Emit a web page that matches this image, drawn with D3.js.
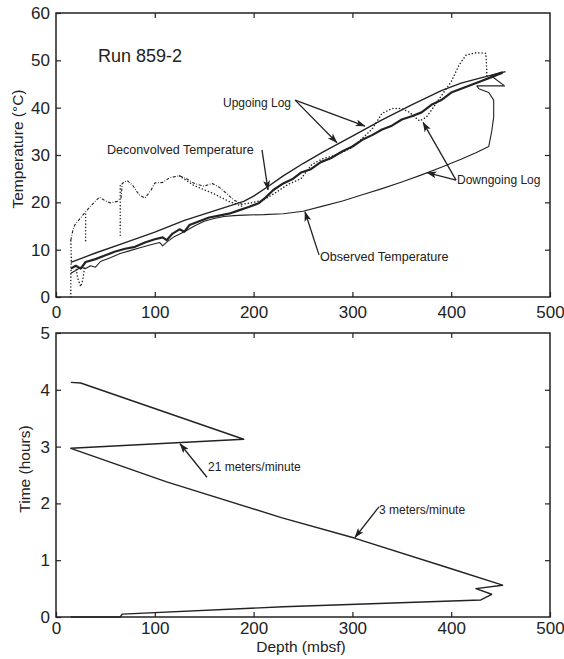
<!DOCTYPE html>
<html>
<head>
<meta charset="utf-8">
<script src="https://cdn.jsdelivr.net/npm/d3@7/dist/d3.min.js"></script>
<style>
  body { margin: 0; background: #fff; }
  svg { display: block; }
  text { font-family: "Liberation Sans", Arial, sans-serif; fill: #222; }
</style>
</head>
<body>
<svg id="chart" width="564" height="659"></svg>
<script>
// ---- tick values ----
const depthTicks = [0, 100, 200, 300, 400, 500];
const tempTicks = [0, 10, 20, 30, 40, 50, 60];
const timeTicks = [0, 1, 2, 3, 4, 5];

// ---- Run 859-2 temperature logs: [depth mbsf, temperature °C] ----
const upgoingUpper = [
  [15, 7.3], [40, 9.3], [70, 11.5], [100, 13.7], [130, 16.2], [160, 18.2],
  [190, 20.2], [200, 21.3], [215, 23.4], [230, 25.6], [250, 28.2], [270, 30.6],
  [300, 34.0], [330, 37.4], [360, 40.6], [390, 43.6], [410, 45.2], [430, 46.3],
  [455, 47.6]
];
const upgoingLower = [
  [15, 6.0], [20, 6.6], [25, 6.0], [30, 7.4], [40, 8.0], [50, 8.8], [60, 9.6],
  [70, 10.2], [80, 10.6], [90, 11.5], [100, 12.2], [108, 12.6], [112, 12.0],
  [118, 13.4], [125, 14.3], [130, 13.8], [135, 15.2], [145, 16.0], [155, 16.8],
  [165, 17.2], [175, 17.6], [185, 18.3], [195, 19.0], [205, 19.8], [212, 21.0],
  [220, 22.6], [230, 24.0], [240, 25.0], [248, 26.3], [258, 27.0], [268, 28.5],
  [278, 29.3], [290, 30.8], [300, 31.8], [310, 33.2], [320, 34.2], [330, 35.4],
  [340, 36.2], [350, 37.5], [360, 38.2], [370, 39.0], [380, 40.6], [390, 41.6],
  [400, 43.2], [410, 44.0], [420, 44.8], [430, 45.6], [440, 46.4], [452, 47.4]
];
const observedTemp = [
  [15, 5.0], [20, 5.6], [25, 6.3], [30, 6.0], [35, 6.6], [40, 6.3], [45, 7.5],
  [55, 8.3], [65, 9.2], [75, 9.8], [85, 10.4], [95, 11.0], [105, 11.5],
  [108, 10.8], [112, 11.6], [120, 12.8], [130, 13.8], [140, 15.0], [150, 16.0],
  [160, 16.6], [170, 17.0], [180, 17.2], [190, 17.3], [210, 17.4], [230, 17.6],
  [250, 18.1], [270, 19.2], [290, 20.3], [310, 21.6], [330, 22.9], [350, 24.3],
  [370, 25.8], [390, 27.4], [410, 29.1], [425, 30.5], [438, 31.8], [441, 35.0],
  [443, 38.0], [443, 41.6], [438, 43.2], [428, 44.0], [426, 44.6], [454, 44.6],
  [440, 46.8], [452, 47.6]
];
// deconvolved temperature, drawn broken in separate pieces
const deconvShallow = [
  [15, 12], [17, 14], [19, 15.2], [22, 16], [28, 17.5],
  [35, 19.2], [44, 21.1], [50, 20.3], [55, 19.9], [62, 20.2], [66, 21],
  [67, 24], [72, 24.6], [78, 23.5], [84, 21.6], [90, 20.9], [96, 22.5],
  [100, 24.1], [108, 24.2], [115, 25.2], [125, 25.6], [132, 25.0], [140, 24.0],
  [150, 23.4], [158, 24.0], [165, 23.2], [172, 22.0], [180, 20.5], [188, 19.6]
];
const deconvBranch = [
  [125, 25.6], [140, 23.5], [160, 21.8], [175, 20.2], [188, 19.2]
];
const deconvDrop0 = [[15, 0], [15, 4], [15.5, 8], [15, 12]];
const deconvDrop1 = [[30, 17.5], [30, 14], [30, 11.5]];
const deconvDrop2 = [[65, 23.5], [65, 18], [65, 12.5]];
const deconvDrop3 = [[20, 6.5], [22, 4], [25, 2.2], [27, 3.5], [29, 6.2]];
const deconvDeep = [
  [188, 19.6], [200, 20.0], [210, 20.5], [222, 22.0], [235, 23.8], [248, 25.0],
  [259, 28.0], [270, 29.2], [280, 29.8], [290, 30.6], [300, 31.6], [310, 33.5],
  [320, 35.5], [330, 38.8], [340, 39.8], [350, 39.8], [358, 39.0], [362, 38.2],
  [368, 37.2], [375, 38.0], [380, 39.5], [390, 42.5], [400, 45.5], [408, 49.0],
  [415, 51.1], [425, 51.6], [435, 51.5], [436, 48.0], [436, 45.5]
];

// ---- probe position: [depth mbsf, time hours] ----
const probePath = [
  [15, 0.0], [65, 0.0], [67, 0.05], [230, 0.18], [430, 0.3], [441, 0.4],
  [425, 0.5], [452, 0.56], [400, 0.85], [302, 1.39], [228, 1.75], [112, 2.38],
  [15, 2.97], [190, 3.13], [25, 4.12], [15, 4.13]
];

const svg = d3.select("#chart");
const ink = "#222";

const x = d3.scaleLinear().domain([0, 500]).range([56, 550]);
const yT = d3.scaleLinear().domain([0, 60]).range([297, 13]);
const yH = d3.scaleLinear().domain([0, 5]).range([617, 333]);

// arrowhead
svg.append("defs").append("marker")
  .attr("id", "head").attr("viewBox", "0 0 10 7")
  .attr("refX", 9.5).attr("refY", 3.5)
  .attr("markerWidth", 10).attr("markerHeight", 7)
  .attr("markerUnits", "userSpaceOnUse")
  .attr("orient", "auto")
  .append("path").attr("d", "M0,0 L10,3.5 L0,7 L2.5,3.5 Z").attr("fill", ink);

function panel(y, ticks, title, titleX, labelGap) {
  const g = svg.append("g");
  const [y0, y1] = y.range();
  g.append("rect")
    .attr("x", x(0)).attr("y", y1)
    .attr("width", x(500) - x(0)).attr("height", y0 - y1)
    .attr("fill", "none").attr("stroke", ink).attr("stroke-width", 1.5);

  const bottom = g.append("g").attr("transform", `translate(0,${y0})`)
    .call(d3.axisBottom(x).tickValues(depthTicks).tickFormat(d3.format("d"))
      .tickSizeInner(-5).tickSizeOuter(0).tickPadding(labelGap));
  const top = g.append("g").attr("transform", `translate(0,${y1})`)
    .call(d3.axisTop(x).tickValues(depthTicks.slice(1, -1)).tickFormat("")
      .tickSizeInner(-5).tickSizeOuter(0));
  const left = g.append("g").attr("transform", `translate(${x(0)},0)`)
    .call(d3.axisLeft(y).tickValues(ticks).tickFormat(d3.format("d"))
      .tickSizeInner(-5).tickSizeOuter(0).tickPadding(6));
  const right = g.append("g").attr("transform", `translate(${x(500)},0)`)
    .call(d3.axisRight(y).tickValues(ticks.slice(1, -1)).tickFormat("")
      .tickSizeInner(-5).tickSizeOuter(0));

  [bottom, top, left, right].forEach(a => {
    a.select(".domain").remove();
    a.selectAll("line").attr("stroke", ink).attr("stroke-width", 1.2);
    a.selectAll("text").attr("font-size", 17).attr("fill", ink)
      .attr("font-family", "'Liberation Sans', Arial, sans-serif");
  });

  g.append("text")
    .attr("transform", `translate(${titleX},${(y0 + y1) / 2 - 6}) rotate(-90)`)
    .attr("text-anchor", "middle").attr("font-size", 15.5)
    .text(title);
  return g;
}

panel(yT, tempTicks, "Temperature (°C)", 23, 9);
panel(yH, timeTicks, "Time (hours)", 30, 5);

svg.append("text").attr("x", 301).attr("y", 652)
  .attr("text-anchor", "middle").attr("font-size", 15.5).text("Depth (mbsf)");

// ---- temperature curves ----
const lineT = d3.line().x(d => x(d[0])).y(d => yT(d[1]));
const plotT = svg.append("g");

plotT.append("path").datum(observedTemp).attr("d", lineT)
  .attr("fill", "none").attr("stroke", ink).attr("stroke-width", 1.1)
  .attr("stroke-linejoin", "round");
plotT.append("path").datum(upgoingUpper).attr("d", lineT)
  .attr("fill", "none").attr("stroke", ink).attr("stroke-width", 1.4)
  .attr("stroke-linejoin", "round");
plotT.append("path").datum(upgoingLower).attr("d", lineT)
  .attr("fill", "none").attr("stroke", ink).attr("stroke-width", 2.2)
  .attr("stroke-linejoin", "round");

// dash-dot for the shallow deconvolved trace, plain dots elsewhere
plotT.append("path").datum(deconvShallow).attr("d", lineT)
  .attr("fill", "none").attr("stroke", ink).attr("stroke-width", 1.1)
  .attr("stroke-dasharray", "3,1.6,0.8,1.6");
[deconvBranch, deconvDrop0, deconvDrop1, deconvDrop2, deconvDrop3, deconvDeep]
  .forEach(seg => {
    plotT.append("path").datum(seg).attr("d", lineT)
      .attr("fill", "none").attr("stroke", ink).attr("stroke-width", 1.5)
      .attr("stroke-linecap", "round").attr("stroke-dasharray", "0.1,3.2");
  });

// ---- probe position curve ----
const lineH = d3.line().x(d => x(d[0])).y(d => yH(d[1]));
svg.append("path").datum(probePath).attr("d", lineH)
  .attr("fill", "none").attr("stroke", ink).attr("stroke-width", 1.4)
  .attr("stroke-linejoin", "round");

// ---- annotations: text anchored in data units, arrows from label to curve ----
const notesT = [
  { text: "Run 859-2", at: [42.5, 49.7], size: 18 },
  { text: "Upgoing Log", at: [169, 40.1], size: 12 },
  { text: "Deconvolved Temperature", at: [51.6, 30.2], size: 12.6 },
  { text: "Downgoing Log", at: [405.9, 23.9], size: 12 },
  { text: "Observed Temperature", at: [267.2, 7.6], size: 12.6 }
];
const arrowsT = [
  [[242, 41.6], [312.8, 36.1]],
  [[242, 41.6], [284.4, 32.6]],
  [[208.5, 31.1], [214.6, 22.6]],
  [[404.9, 24.7], [371.5, 36.9]],
  [[404.9, 24.7], [375.5, 26.3]],
  [[266.2, 8.9], [252, 18.0]]
];
const notesH = [
  { text: "21 meters/minute", at: [153.8, 2.57], size: 12 },
  { text: "3 meters/minute", at: [327, 1.81], size: 12 }
];
const arrowsH = [
  [[152.8, 2.46], [125.5, 3.05]],
  [[326.9, 1.94], [302.6, 1.40]]
];

function annotate(notes, arrows, y) {
  notes.forEach(n => {
    svg.append("text").attr("x", x(n.at[0])).attr("y", y(n.at[1]))
      .attr("font-size", n.size).text(n.text);
  });
  arrows.forEach(([a, b]) => {
    svg.append("line")
      .attr("x1", x(a[0])).attr("y1", y(a[1]))
      .attr("x2", x(b[0])).attr("y2", y(b[1]))
      .attr("stroke", ink).attr("stroke-width", 1.3)
      .attr("marker-end", "url(#head)");
  });
}
annotate(notesT, arrowsT, yT);
annotate(notesH, arrowsH, yH);
</script>
</body>
</html>
